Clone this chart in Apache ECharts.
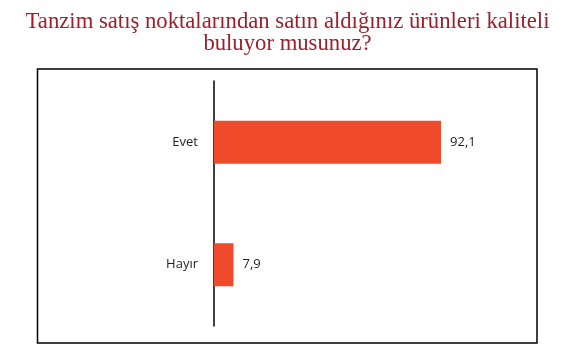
<!DOCTYPE html>
<html><head><meta charset="utf-8">
<script src="https://cdn.jsdelivr.net/npm/echarts@6/dist/echarts.min.js"></script>
<style>html,body{margin:0;padding:0;background:#fff}#c{width:564px;height:356px}</style>
</head><body><div id="c"></div>
<script>
var titleText = "Tanzim satış noktalarından satın aldığınız ürünleri kaliteli\nbuluyor musunuz?";
var categories = ["Evet", "Hayır"];
var values = [92.1, 7.9];

var chart = echarts.init(document.getElementById('c'), null, {renderer: 'canvas'});
chart.setOption({
  animation: false,
  title: {
    text: titleText, left: 287.5, textAlign: 'center', top: 11, padding: 0,
    textStyle: {fontFamily: 'Liberation Serif', fontSize: 22.7, fontWeight: 'normal', color: '#9B1F2A', lineHeight: 22}
  },
  graphic: [{
    type: 'rect', shape: {x: 37.5, y: 69, width: 499.5, height: 274},
    style: {fill: 'none', stroke: '#000', lineWidth: 1.5}, z: 0
  }],
  grid: {left: 214, right: 103.5, top: 81, bottom: 30},
  xAxis: {type: 'value', min: 0, max: 100, show: false},
  yAxis: {
    type: 'category', data: categories, inverse: true,
    axisLine: {lineStyle: {color: '#000', width: 1.5}},
    axisTick: {show: false},
    axisLabel: {fontFamily: 'Open Sans', fontSize: 13, color: '#222', margin: 16}
  },
  series: [{
    type: 'bar', data: values, barWidth: 43,
    itemStyle: {color: '#EF4B2A'},
    label: {
      show: true, position: 'right', distance: 9,
      fontFamily: 'Open Sans', fontSize: 13, color: '#222',
      formatter: function(p){ return String(p.value).replace('.', ','); }
    }
  }]
});
</script></body></html>
